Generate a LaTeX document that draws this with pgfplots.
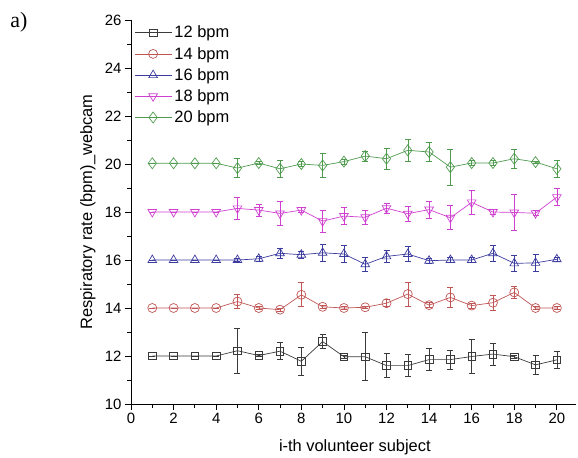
\documentclass[border=0pt]{standalone}
\usepackage{fontspec}
\setmainfont{Liberation Sans}
\newfontfamily\timesf{Liberation Serif}
\usepackage{pgfplots}
\usepackage{pgfplotstable}
\pgfplotsset{compat=1.18}
\definecolor{c12}{HTML}{3A3A3A}
\definecolor{c14}{HTML}{C05555}
\definecolor{c16}{HTML}{3C3CA0}
\definecolor{c18}{HTML}{D040D0}
\definecolor{c20}{HTML}{4E9A4E}

\pgfplotstableread{
x y e
1 12.00 0
2 12.00 0
3 12.00 0
4 12.00 0
5 12.22 0.95
6 12.02 0.05
7 12.20 0.35
8 11.78 0.60
9 12.60 0.30
10 11.97 0.05
11 11.97 1.00
12 11.60 0.50
13 11.60 0.45
14 11.85 0.45
15 11.85 0.40
16 11.98 0.70
17 12.08 0.45
18 11.97 0.05
19 11.63 0.40
20 11.84 0.35
}\tdoce

\pgfplotstableread{
x y e
1 14.00 0
2 14.00 0
3 14.00 0
4 14.00 0
5 14.27 0.28
6 14.00 0.05
7 13.93 0.05
8 14.55 0.50
9 14.05 0.05
10 14.00 0.05
11 14.03 0.05
12 14.20 0.15
13 14.58 0.50
14 14.12 0.10
15 14.44 0.40
16 14.10 0.10
17 14.22 0.30
18 14.65 0.25
19 14.00 0.05
20 14.00 0.05
}\tcatorce

\pgfplotstableread{
x y e
1 16.00 0
2 16.00 0
3 16.00 0
4 16.00 0
5 16.00 0.05
6 16.05 0.10
7 16.28 0.20
8 16.22 0.15
9 16.30 0.35
10 16.25 0.35
11 15.82 0.30
12 16.15 0.25
13 16.25 0.30
14 15.97 0.10
15 16.00 0.10
16 16.00 0.10
17 16.28 0.35
18 15.86 0.35
19 15.88 0.35
20 16.03 0.10
}\tdieciseis

\pgfplotstableread{
x y e
1 18.00 0
2 18.00 0
3 18.00 0
4 18.00 0
5 18.15 0.45
6 18.08 0.25
7 17.94 0.50
8 18.08 0.10
9 17.62 0.45
10 17.83 0.35
11 17.78 0.30
12 18.16 0.20
13 17.93 0.30
14 18.10 0.35
15 17.76 0.50
16 18.40 0.50
17 18.00 0.10
18 17.98 0.75
19 17.95 0.10
20 18.62 0.35
}\tdieciocho

\pgfplotstableread{
x y e
1 20.03 0
2 20.03 0
3 20.03 0
4 20.03 0
5 19.83 0.40
6 20.04 0.05
7 19.80 0.35
8 20.00 0.10
9 19.94 0.50
10 20.10 0.10
11 20.33 0.20
12 20.22 0.45
13 20.57 0.45
14 20.50 0.40
15 19.87 0.75
16 20.04 0.10
17 20.04 0.10
18 20.22 0.40
19 20.08 0.05
20 19.80 0.35
}\tveinte

\begin{document}
\begin{tikzpicture}
\useasboundingbox (-131bp,-54bp) rectangle (447bp,404bp);
\node[font=\timesf\fontsize{22}{24}\selectfont] at (-112bp,382bp) {a)};
\begin{axis}[
  at={(0,0)}, anchor=south west,
  scale only axis, width=445bp, height=384bp,
  xmin=0, xmax=20.9, ymin=10, ymax=26,
  axis x line*=bottom, axis y line*=left,
  axis line style={-, black, line width=0.9pt},
  xtick={0,2,...,20}, minor xtick={1,3,...,19},
  ytick={10,12,...,26}, minor ytick={11,13,...,25},
  tick align=outside,
  major tick length=6bp, minor tick length=3.5bp,
  every tick/.style={black, line width=0.8pt},
  /pgf/number format/assume math mode=true,
  tick label style={font=\fontsize{15}{17}\selectfont},
  label style={font=\fontsize{16.5}{19}\selectfont},
  xlabel={i-th volunteer subject},
  ylabel={Respiratory rate (bpm)\_webcam},
  xlabel style={at={(axis description cs:0.503,-0.112)}, anchor=center},
  ylabel style={at={(axis description cs:-0.097,0.5)}, anchor=center},
  legend style={at={(axis description cs:0.008,0.99)}, anchor=north west,
    draw=none, fill=none, font=\fontsize{16.5}{19}\selectfont, row sep=3.8bp,
    inner sep=0pt, /tikz/every even column/.append style={column sep=3bp}},
  legend cell align=left,
  legend image code/.code={\draw[mark repeat=2,mark phase=2] plot coordinates {(0bp,0bp)(18bp,0bp)(37bp,0bp)};},
  every axis plot/.append style={line width=0.7pt},
  error bars/y dir=both, error bars/y explicit,
  error bars/error mark options={rotate=90, mark size=3bp, line width=0.7pt},
]
\addplot[c12, mark=square, mark size=3.8bp, mark options={solid, line width=0.7pt}] table[x=x,y=y,y error=e] {\tdoce};
\addlegendentry{12 bpm}
\addplot[c14, mark=o, mark size=4.5bp, mark options={solid, line width=0.7pt}] table[x=x,y=y,y error=e] {\tcatorce};
\addlegendentry{14 bpm}
\addplot[c16, mark=triangle, mark size=5bp, mark options={solid, line width=0.7pt}] table[x=x,y=y,y error=e] {\tdieciseis};
\addlegendentry{16 bpm}
\addplot[c18, mark=triangle, mark size=5bp, mark options={solid, rotate=180, line width=0.7pt}] table[x=x,y=y,y error=e] {\tdieciocho};
\addlegendentry{18 bpm}
\addplot[c20, mark=diamond, mark size=5.5bp, mark options={solid, line width=0.7pt}] table[x=x,y=y,y error=e] {\tveinte};
\addlegendentry{20 bpm}
\end{axis}
\end{tikzpicture}
\end{document}
